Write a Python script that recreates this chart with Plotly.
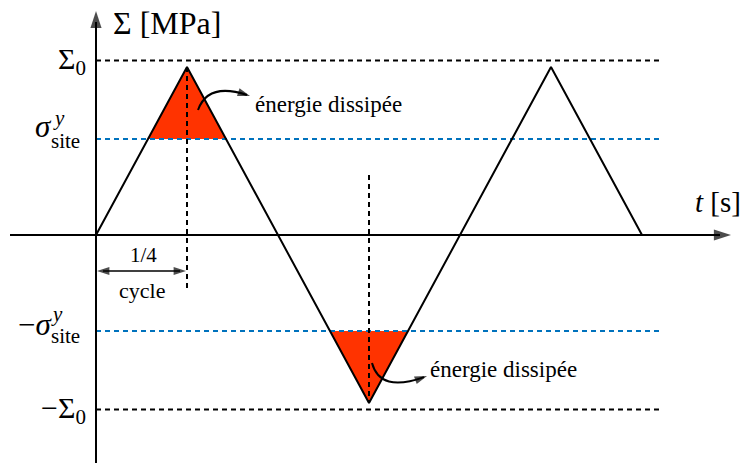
import plotly.graph_objects as go

# ---------------- data ----------------
t_knots = [0.0, 0.25, 0.75, 1.25, 1.5]            # time, in cycles
sigma_knots = [0.0, 0.963, -0.963, 0.963, 0.0]    # stress / Sigma_0
SIGMA_0 = 1.0
SIGMA_Y = 0.55
filled_extrema = [1, 2]        # knot indices whose tip above |sigma_y| is filled
guide_t_end = 1.55             # right end of the horizontal guide lines
quarter = 0.25                 # "1/4 cycle" span

# ---------------- pixel helpers (decorations only) ----------------
W, H = 742, 463
X0, SX = 96, 364.0
Y0, SY = 235, 174.5


def tx(px):
    return (px - X0) / SX


def ty(py):
    return (Y0 - py) / SY


FONT = "Liberation Serif, Times New Roman, serif"
RED = "#FF3300"
BLUE = "#0072BD"

fig = go.Figure()


def crossing(i, j, level):
    t1, s1 = t_knots[i], sigma_knots[i]
    t2, s2 = t_knots[j], sigma_knots[j]
    return t1 + (level - s1) * (t2 - t1) / (s2 - s1)


def seg(xs, ys, width=2, color="black", dash=None):
    fig.add_trace(go.Scatter(
        x=xs, y=ys, mode="lines",
        line=dict(color=color, width=width, dash=dash),
        hoverinfo="skip", showlegend=False))


def head(xf, yf, xt, yt, size):
    # arrowhead at (xt, yt), oriented from (xf, yf)
    fig.add_trace(go.Scatter(
        x=[xf, xt], y=[yf, yt], mode="markers",
        marker=dict(symbol="arrow", size=[0, size], angleref="previous",
                    color="black", line=dict(width=0)),
        hoverinfo="skip", showlegend=False))


# red dissipated-energy triangles
for k in filled_extrema:
    lev = SIGMA_Y if sigma_knots[k] > 0 else -SIGMA_Y
    tl = crossing(k - 1, k, lev)
    tr = crossing(k, k + 1, lev)
    fig.add_trace(go.Scatter(
        x=[tl, t_knots[k], tr, tl], y=[lev, sigma_knots[k], lev, lev],
        mode="lines", fill="toself", fillcolor=RED,
        line=dict(width=0, color=RED), hoverinfo="skip", showlegend=False))

# horizontal guide lines
for lev, col in [(SIGMA_0, "black"), (-SIGMA_0, "black"),
                 (SIGMA_Y, BLUE), (-SIGMA_Y, BLUE)]:
    seg([0, guide_t_end], [lev, lev], color=col, dash="5px,4px")

# vertical dashed lines at first peak and first trough
seg([t_knots[1], t_knots[1]], [sigma_knots[1], ty(291)], dash="5px,4px")
seg([t_knots[2], t_knots[2]], [ty(175), sigma_knots[2]], dash="5px,4px")

# triangular wave
seg(t_knots, sigma_knots, width=2)

# axes with arrows
seg([tx(10), tx(720)], [0, 0], width=2)
head(tx(700), 0, tx(731), 0, 18)
seg([0, 0], [ty(470), ty(22)], width=2)
head(0, ty(40), 0, ty(11), 18)

# 1/4 cycle double arrow
seg([tx(103), tx(180)], [ty(271), ty(271)], width=1.6)
head(tx(140), ty(271), tx(97), ty(271), 13)
head(tx(140), ty(271), tx(186), ty(271), 13)

# curved arrows (paths) + heads
shapes = []
curves = [((198, 110), (208, 82), (250, 96)),
          ((372, 363), (380, 393), (427, 376))]
for (p0, c, p1) in curves:
    shapes.append(dict(
        type="path", xref="x", yref="y",
        path=f"M {tx(p0[0])},{ty(p0[1])} Q {tx(c[0])},{ty(c[1])} {tx(p1[0] - 3)},{ty(p1[1] - (p1[1]-c[1]) * 3 / (p1[0]-c[0]))}",
        line=dict(color="black", width=2)))
    head(tx(c[0]), ty(c[1]), tx(p1[0]), ty(p1[1]), 13)

ann = []


def label(px, py, text, size, anchor="left"):
    ann.append(dict(x=tx(px), y=ty(py), xref="x", yref="y", text=text,
                    showarrow=False, xanchor=anchor, yanchor="middle",
                    borderpad=0,
                    font=dict(family=FONT, size=size, color="black")))


# axis titles
label(112, 23, "Σ [MPa]", 32)
label(694, 202, "<i>t</i> [s]", 29)

# tick labels
label(87, 61, "Σ<sub>0</sub>", 30, "right")
label(87, 410, "−Σ<sub>0</sub>", 30, "right")
label(53, 126, "<i>σ</i>", 31, "right")
label(52, 118, "<i>y</i>", 21)
label(50, 141, "site", 21)
label(53, 324, "−<i>σ</i>", 31, "right")
label(50, 314, "<i>y</i>", 21)
label(50, 336, "site", 21)

# misc texts
label(143, 255, "1/4", 21, "center")
label(142, 290, "cycle", 22, "center")
label(254, 104, "énergie dissipée", 23)
label(429, 369, "énergie dissipée", 23)

fig.update_layout(
    width=W, height=H,
    margin=dict(l=0, r=0, t=0, b=0, pad=0),
    paper_bgcolor="white", plot_bgcolor="white",
    xaxis=dict(range=[tx(0), tx(W)], visible=False, fixedrange=True),
    yaxis=dict(range=[ty(H), ty(0)], visible=False, fixedrange=True),
    annotations=ann, shapes=shapes, showlegend=False,
)

fig.write_html("out.html",
               config={"displayModeBar": False},
               post_script="document.body.style.margin='0';"
                           "document.body.style.overflow='hidden';")
